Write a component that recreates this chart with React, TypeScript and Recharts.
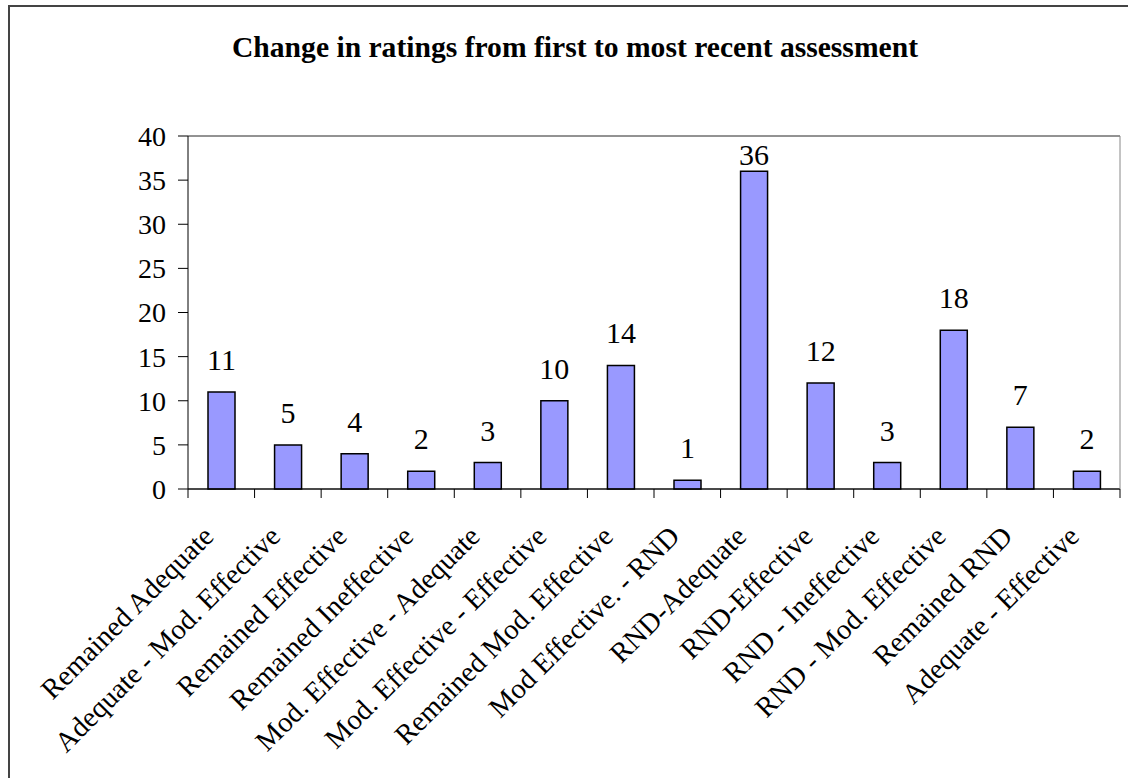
import { BarChart, Bar, XAxis, YAxis, CartesianGrid, LabelList } from 'recharts';

const categories = [
  'Remained Adequate',
  'Adequate - Mod. Effective',
  'Remained Effective',
  'Remained Ineffective',
  'Mod. Effective - Adequate',
  'Mod. Effective - Effective',
  'Remained Mod. Effective',
  'Mod Effective. - RND',
  'RND-Adequate',
  'RND-Effective',
  'RND - Ineffective',
  'RND - Mod. Effective',
  'Remained RND',
  'Adequate - Effective',
];
const counts = [11, 5, 4, 2, 3, 10, 14, 1, 36, 12, 3, 18, 7, 2];
const yTicks = [0, 5, 10, 15, 20, 25, 30, 35, 40];

const data = categories.map((name, i) => ({ name, count: counts[i] }));

const FONT = 'Liberation Serif';
const TICK_SIZE = 9;
const PLOT_TOP = 136;

const CategoryTick = (props: any) => {
  const { x, y, payload, index } = props;
  const half = payload && payload.offset ? payload.offset : 33.3;
  const axisY = y - TICK_SIZE;
  const tx = x - 6;
  const ty = axisY + 49;
  return (
    <g>
      {index === 0 && (
        <line x1={x - half} x2={x - half} y1={axisY} y2={axisY + TICK_SIZE} stroke="#000" />
      )}
      <line x1={x + half} x2={x + half} y1={axisY} y2={axisY + TICK_SIZE} stroke="#000" />
      <text
        x={tx}
        y={ty}
        textAnchor="end"
        transform={`rotate(-45, ${tx}, ${ty})`}
        style={{ fontFamily: FONT, fontSize: 28.5 }}
        fill="#000"
      >
        {payload.value}
      </text>
    </g>
  );
};

// value label above each bar, kept inside the plot like the original
const ValueLabel = (props: any) => {
  const { x, y, width, value } = props;
  const baseline = Math.max(y - 22, PLOT_TOP + 29);
  return (
    <text
      x={x + width / 2}
      y={baseline}
      textAnchor="middle"
      style={{ fontFamily: FONT, fontSize: 30 }}
      fill="#000"
    >
      {value}
    </text>
  );
};

export default function App() {
  return (
    <div style={{ position: 'absolute', left: 0, top: 0, width: 1128, height: 778, overflow: 'hidden', background: '#fff' }}>
      <div
        style={{
          position: 'absolute',
          left: 8,
          top: 5,
          width: 1200,
          height: 900,
          border: '2px solid #444',
          boxSizing: 'border-box',
        }}
      />
      <div style={{ position: 'absolute', left: 0, top: 0 }}>
        <BarChart
          width={1128}
          height={778}
          data={data}
          margin={{ top: PLOT_TOP, right: 0, bottom: 0, left: 0 }}
        >
          <text
            x={575}
            y={57}
            textAnchor="middle"
            style={{ fontFamily: FONT, fontWeight: 'bold', fontSize: 29 }}
            textLength={686}
            lengthAdjust="spacingAndGlyphs"
            fill="#000"
          >
            Change in ratings from first to most recent assessment
          </text>
          <CartesianGrid vertical={false} stroke="#000" strokeOpacity={0.85} />
          <XAxis
            dataKey="name"
            interval={0}
            height={289}
            tickSize={TICK_SIZE}
            tickMargin={0}
            tickLine={false}
            axisLine={{ stroke: '#000' }}
            tick={<CategoryTick />}
          />
          <YAxis
            yAxisId="left"
            domain={[0, 40]}
            ticks={yTicks}
            width={188}
            tickSize={10}
            tickMargin={12}
            axisLine={{ stroke: '#000' }}
            tickLine={{ stroke: '#000' }}
            tick={{ fontSize: 28, fill: '#000', style: { fontFamily: FONT } }}
          />
          <YAxis
            yAxisId="right"
            orientation="right"
            width={8}
            tick={false}
            tickLine={false}
            axisLine={{ stroke: '#888' }}
          />
          <Bar
            yAxisId="left"
            dataKey="count"
            fill="#9999FF"
            stroke="#000"
            strokeWidth={1.5}
            barSize={27}
            isAnimationActive={false}
          >
            <LabelList dataKey="count" content={<ValueLabel />} />
          </Bar>
        </BarChart>
      </div>
    </div>
  );
}
